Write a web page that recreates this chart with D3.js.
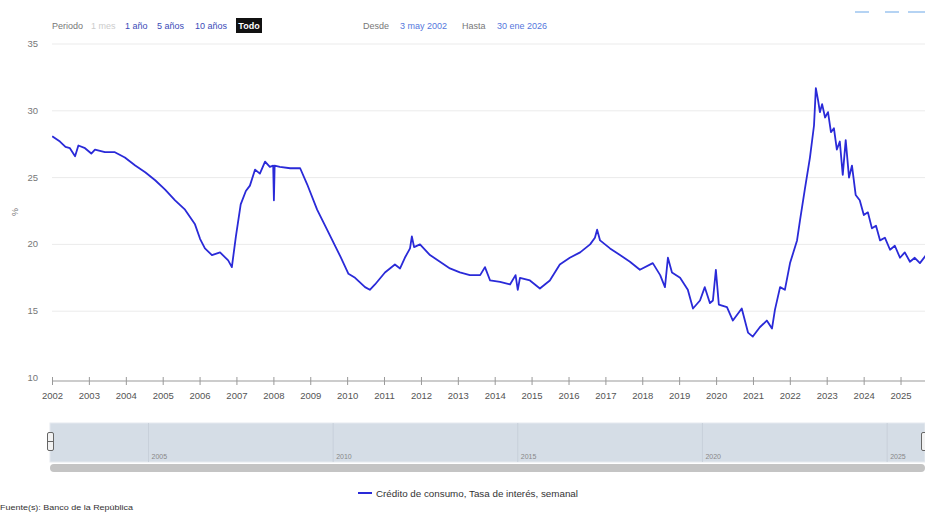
<!DOCTYPE html>
<html>
<head>
<meta charset="utf-8">
<script src="https://cdn.jsdelivr.net/npm/d3@7"></script>
<style>
  body { margin: 0; background: #fff; }
  svg { font-family: 'Liberation Sans', Arial, sans-serif; }
</style>
</head>
<body>
<div class="chart"></div>
<script>
// fechas en años decimales, tasas en %
const fechas = [2002.34, 2002.55, 2002.70, 2002.82, 2002.96, 2003.05, 2003.23, 2003.40, 2003.50, 2003.77,
  2004.04, 2004.31, 2004.59, 2004.86, 2005.13, 2005.40, 2005.67, 2005.94, 2006.21, 2006.35,
  2006.48, 2006.67, 2006.89, 2007.11, 2007.21, 2007.32, 2007.45, 2007.59, 2007.70, 2007.84,
  2007.97, 2008.11, 2008.24, 2008.33, 2008.35, 2008.37, 2008.51, 2008.79, 2009.06, 2009.25,
  2009.52, 2009.79, 2010.15, 2010.37, 2010.55, 2010.82, 2010.95, 2011.09, 2011.36, 2011.63,
  2011.77, 2011.90, 2012.04, 2012.09, 2012.15, 2012.31, 2012.58, 2012.85, 2013.12, 2013.39,
  2013.66, 2013.94, 2014.07, 2014.21, 2014.48, 2014.75, 2014.90, 2014.96, 2015.02, 2015.29,
  2015.56, 2015.83, 2016.10, 2016.37, 2016.65, 2016.92, 2017.05, 2017.11, 2017.19, 2017.46,
  2017.73, 2018.00, 2018.27, 2018.62, 2018.82, 2018.95, 2019.03, 2019.14, 2019.36, 2019.57,
  2019.71, 2019.90, 2020.03, 2020.17, 2020.25, 2020.33, 2020.41, 2020.63, 2020.79, 2021.03,
  2021.20, 2021.33, 2021.52, 2021.71, 2021.85, 2021.93, 2022.07, 2022.20, 2022.34, 2022.53,
  2022.61, 2022.74, 2022.88, 2022.99, 2023.04, 2023.10, 2023.15, 2023.21, 2023.29, 2023.37,
  2023.45, 2023.53, 2023.61, 2023.69, 2023.77, 2023.85, 2023.94, 2024.02, 2024.12, 2024.23,
  2024.34, 2024.45, 2024.56, 2024.67, 2024.78, 2024.91, 2025.05, 2025.18, 2025.32, 2025.45,
  2025.59, 2025.72, 2025.86, 2026.08];
const tasas = [28.1, 27.7, 27.3, 27.2, 26.6, 27.4, 27.2, 26.8, 27.1, 26.9,
  26.9, 26.5, 25.9, 25.4, 24.8, 24.1, 23.3, 22.6, 21.5, 20.4,
  19.7, 19.2, 19.4, 18.8, 18.3, 20.6, 23.0, 24.0, 24.4, 25.6,
  25.3, 26.2, 25.8, 25.9, 23.3, 25.9, 25.8, 25.7, 25.7, 24.5,
  22.6, 21.1, 19.1, 17.8, 17.5, 16.8, 16.6, 17.0, 17.9, 18.5,
  18.2, 19.0, 19.7, 20.6, 19.8, 20.0, 19.2, 18.7, 18.2, 17.9,
  17.7, 17.7, 18.3, 17.3, 17.2, 17.0, 17.7, 16.6, 17.5, 17.3,
  16.7, 17.3, 18.5, 19.0, 19.4, 20.0, 20.5, 21.1, 20.3, 19.7,
  19.2, 18.7, 18.1, 18.6, 17.7, 16.8, 19.0, 17.9, 17.5, 16.6,
  15.2, 15.8, 16.8, 15.6, 15.8, 18.1, 15.5, 15.3, 14.3, 15.2,
  13.4, 13.1, 13.8, 14.3, 13.7, 15.1, 16.8, 16.6, 18.6, 20.3,
  21.8, 24.1, 26.5, 28.9, 31.7, 30.8, 29.9, 30.5, 29.5, 29.9,
  28.4, 28.7, 27.1, 27.7, 25.2, 27.8, 25.0, 25.9, 23.7, 23.3,
  22.2, 22.4, 21.2, 21.4, 20.3, 20.5, 19.6, 19.9, 19.0, 19.4,
  18.7, 19.0, 18.6, 19.4];
const yTicks = [10, 15, 20, 25, 30, 35];
const anios = d3.range(2002, 2026);
const navAnios = [2005, 2010, 2015, 2020, 2025];
const serieNombre = 'Crédito de consumo, Tasa de interés, semanal';
const fuente = 'Fuente(s): Banco de la República';

const width = 925, height = 512;
const inicio = new Date(2002, 4, 3), fin = new Date(2026, 0, 30);

function aFecha(d) {
  const a = Math.floor(d);
  const t0 = new Date(a, 0, 1), t1 = new Date(a + 1, 0, 1);
  return new Date(+t0 + (d - a) * (t1 - t0));
}
const datos = fechas.map((f, i) => ({ fecha: aFecha(f), valor: tasas[i] }));

const svg = d3.select('.chart').append('svg')
  .attr('width', width).attr('height', height);

const x = d3.scaleTime().domain([inicio, fin]).range([52, 928]);
const y = d3.scaleLinear().domain([10, 35]).range([378, 44]);

svg.append('clipPath').attr('id', 'clip')
  .append('rect').attr('x', 52).attr('y', 30).attr('width', 873).attr('height', 360);

// rejilla y eje Y
svg.append('g').selectAll('line').data(yTicks.slice(1)).join('line')
  .attr('x1', 52).attr('x2', 925)
  .attr('y1', d => y(d)).attr('y2', d => y(d))
  .style('stroke', '#ebebeb').style('stroke-width', '1px');

svg.append('g').selectAll('text').data(yTicks).join('text')
  .attr('x', 38).attr('y', d => y(d) + 3)
  .attr('text-anchor', 'end')
  .attr('font-size', '9.5px').attr('fill', '#777')
  .text(d => d);

svg.append('text')
  .attr('transform', 'translate(18,212) rotate(-90)')
  .attr('text-anchor', 'middle')
  .attr('font-size', '9px').attr('fill', '#777')
  .text('%');

// eje X
const ejeX = svg.append('g').attr('transform', 'translate(0,381)')
  .call(d3.axisBottom(x)
    .tickValues(anios.map(a => new Date(a, 4, 3)))
    .tickFormat(d3.timeFormat('%Y'))
    .tickSize(5).tickSizeOuter(0));
ejeX.select('.domain').attr('d', 'M52,0H925').style('stroke', '#999');
ejeX.selectAll('.tick line').attr('y1', -4).attr('y2', 4).style('stroke', '#999');
ejeX.selectAll('.tick text').attr('y', 11).attr('font-size', '9.5px')
  .attr('fill', '#555').attr('font-family', "'Liberation Sans', Arial, sans-serif");

// serie
const linea = d3.line().x(d => x(d.fecha)).y(d => y(d.valor));
svg.append('path').datum(datos)
  .attr('clip-path', 'url(#clip)')
  .attr('d', linea)
  .style('fill', 'none')
  .style('stroke', '#2a2ad8')
  .style('stroke-width', '1.8px')
  .style('stroke-linejoin', 'round');

// navegador
const xn = d3.scaleTime().domain([inicio, fin]).range([50, 927]);
svg.append('rect').attr('x', 50).attr('y', 423).attr('width', 875).attr('height', 39)
  .style('fill', '#d5dde6').style('stroke', '#e6eaef');
svg.append('g').selectAll('line').data(navAnios).join('line')
  .attr('x1', d => xn(new Date(d, 0, 1))).attr('x2', d => xn(new Date(d, 0, 1)))
  .attr('y1', 423).attr('y2', 462)
  .style('stroke', '#c8d0da').style('stroke-width', '1px');
svg.append('g').selectAll('text').data(navAnios).join('text')
  .attr('x', d => xn(new Date(d, 0, 1)) + 3).attr('y', 459)
  .attr('font-size', '7px').attr('fill', '#888')
  .text(d => d);
svg.append('rect').attr('x', 47.5).attr('y', 432.5).attr('width', 6).attr('height', 18).attr('rx', 1.5)
  .style('fill', '#f2f2f2').style('stroke', '#666');
svg.append('line').attr('x1', 48).attr('x2', 53).attr('y1', 441.5).attr('y2', 441.5).style('stroke', '#666');
svg.append('rect').attr('x', 921.5).attr('y', 432.5).attr('width', 6).attr('height', 18).attr('rx', 1.5)
  .style('fill', '#f2f2f2').style('stroke', '#666');
svg.append('rect').attr('x', 50).attr('y', 464).attr('width', 875).attr('height', 8).attr('rx', 4)
  .style('fill', '#c4c4c4');

// selector de periodo
const arriba = svg.append('g').attr('font-size', '9px');
arriba.append('text').attr('x', 52).attr('y', 29).attr('fill', '#777').text('Periodo');
arriba.append('text').attr('x', 91).attr('y', 29).attr('fill', '#ccc').text('1 mes');
arriba.append('text').attr('x', 125).attr('y', 29).attr('fill', '#3a4ab8').text('1 año');
arriba.append('text').attr('x', 157).attr('y', 29).attr('fill', '#3a4ab8').text('5 años');
arriba.append('text').attr('x', 195).attr('y', 29).attr('fill', '#3a4ab8').text('10 años');
arriba.append('rect').attr('x', 236).attr('y', 18).attr('width', 26).attr('height', 15).style('fill', '#111');
arriba.append('text').attr('x', 249).attr('y', 29).attr('text-anchor', 'middle')
  .attr('fill', '#fff').attr('font-weight', 'bold').text('Todo');
arriba.append('text').attr('x', 363).attr('y', 29).attr('fill', '#777').text('Desde');
arriba.append('text').attr('x', 400).attr('y', 29).attr('fill', '#5577dd').text('3 may 2002');
arriba.append('text').attr('x', 462).attr('y', 29).attr('fill', '#777').text('Hasta');
arriba.append('text').attr('x', 497).attr('y', 29).attr('fill', '#5577dd').text('30 ene 2026');

// botones arriba a la derecha
[[855, 14], [885, 14], [908, 17]].forEach(b => {
  svg.append('rect').attr('x', b[0]).attr('y', 11).attr('width', b[1]).attr('height', 2)
    .style('fill', '#b5d3f3');
});

// leyenda
svg.append('line').attr('x1', 358).attr('x2', 372).attr('y1', 493).attr('y2', 493)
  .style('stroke', '#2a2ad8').style('stroke-width', '2px');
svg.append('text').attr('x', 376).attr('y', 496.5)
  .attr('font-size', '9.5px').attr('fill', '#333')
  .attr('textLength', 202).attr('lengthAdjust', 'spacingAndGlyphs')
  .text(serieNombre);

svg.append('text').attr('x', 0).attr('y', 510)
  .attr('font-size', '7.5px').attr('fill', '#333')
  .attr('textLength', 133).attr('lengthAdjust', 'spacingAndGlyphs')
  .text(fuente);
</script>
</body>
</html>
